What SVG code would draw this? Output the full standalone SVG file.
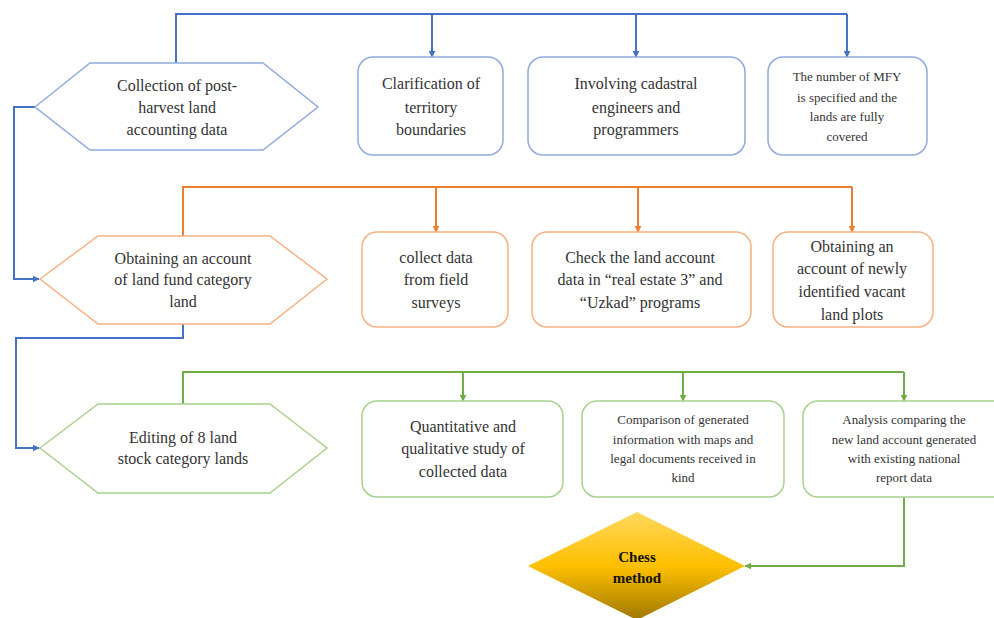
<svg xmlns="http://www.w3.org/2000/svg" width="994" height="618" viewBox="0 0 994 618" font-family="Liberation Serif, Tinos, Times New Roman, DejaVu Serif, Noto Serif, serif">
<style>
text{fill:#333;text-anchor:middle}
.t16{font-size:16px}
.t13{font-size:13px}
.bb{fill:#fff;stroke:#8FAADC;stroke-width:1.5}
.ob{fill:#fff;stroke:#F4B183;stroke-width:1.5}
.gb{fill:#fff;stroke:#A9D18E;stroke-width:1.5}
.bl{fill:none;stroke:#4472C4;stroke-width:2}
.ol{fill:none;stroke:#ED7D31;stroke-width:2}
.gl{fill:none;stroke:#70AD47;stroke-width:2}
</style>
<defs>
<marker id="ab" viewBox="0 0 10 10" refX="9" refY="5" markerWidth="3.5" markerHeight="3.5" orient="auto"><path d="M0,0L10,5L0,10z" fill="#4472C4"/></marker>
<marker id="ao" viewBox="0 0 10 10" refX="9" refY="5" markerWidth="3.5" markerHeight="3.5" orient="auto"><path d="M0,0L10,5L0,10z" fill="#ED7D31"/></marker>
<marker id="ag" viewBox="0 0 10 10" refX="9" refY="5" markerWidth="3.5" markerHeight="3.5" orient="auto"><path d="M0,0L10,5L0,10z" fill="#70AD47"/></marker>
<linearGradient id="gold" x1="0" y1="0" x2="0" y2="1">
<stop offset="0" stop-color="#FFD75E"/>
<stop offset="0.5" stop-color="#FFC000"/>
<stop offset="1" stop-color="#9E7700"/>
</linearGradient>
</defs>

<g id="connectors">
<path class="bl" d="M176,63V14H847"/>
<path class="bl" d="M432,14V57" marker-end="url(#ab)"/>
<path class="bl" d="M636,14V57" marker-end="url(#ab)"/>
<path class="bl" d="M847,14V57" marker-end="url(#ab)"/>
<path class="bl" d="M35,107H14V279H39" marker-end="url(#ab)"/>
<path class="ol" d="M183,236V187H852"/>
<path class="ol" d="M436,187V232" marker-end="url(#ao)"/>
<path class="ol" d="M638,187V232" marker-end="url(#ao)"/>
<path class="ol" d="M852,187V232" marker-end="url(#ao)"/>
<path class="bl" d="M183,324V338H16V448H39" marker-end="url(#ab)"/>
<path class="gl" d="M183,404V372H904"/>
<path class="gl" d="M463,372V401" marker-end="url(#ag)"/>
<path class="gl" d="M683,372V401" marker-end="url(#ag)"/>
<path class="gl" d="M904,372V401" marker-end="url(#ag)"/>
<path class="gl" d="M904,497V566H745" marker-end="url(#ag)"/>
</g>

<g id="hex1">
<polygon class="bb" points="35,107 90,63 263,63 318,107 263,150 90,150"/>
<text class="t16" x="177" y="91">Collection of post-</text>
<text class="t16" x="177" y="113">harvest land</text>
<text class="t16" x="177" y="135">accounting data</text>
</g>
<g id="b1">
<rect class="bb" x="358" y="57" width="145" height="98" rx="15"/>
<text class="t16" x="431" y="89">Clarification  of</text>
<text class="t16" x="431" y="113">territory</text>
<text class="t16" x="431" y="135">boundaries</text>
</g>
<g id="b2">
<rect class="bb" x="528" y="57" width="217" height="98" rx="15"/>
<text class="t16" x="636" y="89">Involving  cadastral</text>
<text class="t16" x="636" y="113">engineers  and</text>
<text class="t16" x="636" y="135">programmers</text>
</g>
<g id="b3">
<rect class="bb" x="768" y="57" width="159" height="98" rx="15"/>
<text class="t13" x="847" y="81">The number  of MFY</text>
<text class="t13" x="847" y="102">is  specified  and the</text>
<text class="t13" x="847" y="121">lands  are fully</text>
<text class="t13" x="847" y="141">covered</text>
</g>

<g id="hex2">
<polygon class="ob" points="40,279 98,236 270,236 327,279 270,324 98,324"/>
<text class="t16" x="183" y="264">Obtaining  an account</text>
<text class="t16" x="183" y="285">of land  fund category</text>
<text class="t16" x="183" y="307">land</text>
</g>
<g id="o1">
<rect class="ob" x="362" y="232" width="146" height="95" rx="15"/>
<text class="t16" x="436" y="263">collect data</text>
<text class="t16" x="436" y="285">from field</text>
<text class="t16" x="436" y="308">surveys</text>
</g>
<g id="o2">
<rect class="ob" x="532" y="232" width="219" height="95" rx="15"/>
<text class="t16" x="640" y="263">Check the land account</text>
<text class="t16" x="640" y="285">data in “real estate 3” and</text>
<text class="t16" x="640" y="308">“Uzkad” programs</text>
</g>
<g id="o3">
<rect class="ob" x="773" y="232" width="160" height="95" rx="15"/>
<text class="t16" x="852" y="252">Obtaining  an</text>
<text class="t16" x="852" y="274">account of newly</text>
<text class="t16" x="852" y="297">identified  vacant</text>
<text class="t16" x="852" y="320">land plots</text>
</g>

<g id="hex3">
<polygon class="gb" points="40,448 98,404 270,404 327,448 270,493 98,493"/>
<text class="t16" x="183" y="443">Editing  of 8 land</text>
<text class="t16" x="183" y="464">stock category lands</text>
</g>
<g id="g1">
<rect class="gb" x="362" y="401" width="201" height="96" rx="15"/>
<text class="t16" x="463" y="432">Quantitative  and</text>
<text class="t16" x="463" y="454">qualitative  study of</text>
<text class="t16" x="463" y="477">collected data</text>
</g>
<g id="g2">
<rect class="gb" x="582" y="401" width="202" height="96" rx="15"/>
<text class="t13" x="683" y="424">Comparison  of generated</text>
<text class="t13" x="683" y="444">information  with maps and</text>
<text class="t13" x="683" y="463">legal documents  received in</text>
<text class="t13" x="683" y="482">kind</text>
</g>
<g id="g3">
<rect class="gb" x="803" y="401" width="210" height="96" rx="15"/>
<text class="t13" x="904" y="424">Analysis  comparing  the</text>
<text class="t13" x="904" y="444">new land account  generated</text>
<text class="t13" x="904" y="463">with existing  national</text>
<text class="t13" x="904" y="482">report data</text>
</g>

<g id="chess">
<polygon points="637,512 745,566 637,620 528,566" fill="url(#gold)"/>
<text x="637" y="562" style="font-size:15px;font-weight:bold;fill:#111">Chess</text>
<text x="637" y="583" style="font-size:15px;font-weight:bold;fill:#111">method</text>
</g>
</svg>
